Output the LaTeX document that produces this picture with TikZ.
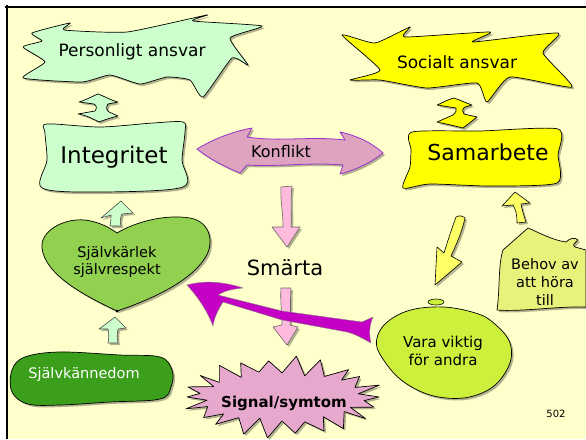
\documentclass[tikz,border=0pt]{standalone}
\usepackage{fontspec}
\setmainfont{DejaVu Sans}
\usetikzlibrary{shadows}
\definecolor{cream}{HTML}{FFFFCC}
\definecolor{lgreen}{HTML}{CCFFCC}
\definecolor{yel}{HTML}{FFFF00}
\definecolor{lyel}{HTML}{FFFF66}
\definecolor{konf}{HTML}{DDA3BF}
\definecolor{konfline}{HTML}{9933CC}
\definecolor{pinkarr}{HTML}{FFBBDD}
\definecolor{sigpink}{HTML}{E6A8CC}
\definecolor{magarr}{HTML}{C400C4}
\definecolor{heart}{HTML}{92D050}
\definecolor{dgreen}{HTML}{3C9F1C}
\definecolor{lime}{HTML}{CCF03C}
\definecolor{behov}{HTML}{E8F27A}
\begin{document}
\begin{tikzpicture}[x=1pt,y=-1pt,
  shad/.style={drop shadow={shadow xshift=2pt,shadow yshift=-2pt,opacity=.3,fill=black}},
  shp/.style={draw=black, line width=0.7pt, line join=round, shad},
  lbl/.style={font=\fontsize{14.5}{17.5}\selectfont, align=center, inner sep=0pt},
  big/.style={font=\fontsize{22}{26}\selectfont, inner sep=0pt}]
\useasboundingbox (0,0) rectangle (586,439);
\fill[white] (0,0) rectangle (586,439);
\fill[cream] (7,7) rectangle (586,439);
\draw[line width=2.5pt] (5,7) -- (586,7);
\draw[line width=2.5pt] (7,5) -- (7,439);

% Personligt ansvar
\path[shp, fill=lgreen] plot[smooth cycle, tension=0.3] coordinates {(32,33) (70,23) (64,30) (127,32) (207,15) (193,21) (262,26) (230,38) (248,65) (232,58) (203,97) (190,80) (167,77) (140,84) (110,75) (82,82) (23,78) (45,62) (23,47) (42,41)};
\node[font=\fontsize{17}{20}\selectfont, inner sep=0pt] (pers) at (132,52) {Personligt ansvar};

% green hook
\path[shp, fill=lgreen] (79,102) .. controls (88,99) and (93,96) .. (98,94) .. controls (104,96) and (110,100) .. (118,102) -- (108,104) .. controls (106,107) and (106,110) .. (109,112) -- (118,116) .. controls (110,118) and (104,120) .. (99,122) .. controls (93,119) and (86,115) .. (78,114) -- (95,111) .. controls (97,108) and (97,106) .. (94,104) -- cycle;

% Integritet
\path[shp, fill=lgreen] plot[smooth cycle, tension=0.5] coordinates {(47,124) (100,127) (153,123) (183,122) (185,132) (182,160) (183,187) (100,192) (42,188) (47,160) (45,133)};
\node[big, font=\fontsize{23}{26}\selectfont] (integ) at (114,157) {Integritet};

% Socialt ansvar
\path[shp, fill=yel] plot[smooth cycle, tension=0.3] coordinates {(342,35) (375,43) (410,27) (405,37) (490,32) (473,42) (558,33) (543,53) (572,87) (510,77) (487,102) (477,83) (427,88) (380,80) (350,80) (380,70)};
\node[font=\fontsize{17}{20}\selectfont, inner sep=0pt] (soc) at (457,62) {Socialt ansvar};

% yellow hook
\path[shp, fill=yel] (437,105) .. controls (444,102) and (449,99) .. (454,98) .. controls (460,100) and (466,103) .. (472,105) -- (465,107) .. controls (462,109) and (462,112) .. (464,114) -- (477,117) .. controls (472,121) and (467,125) .. (463,128) .. controls (455,126) and (446,124) .. (437,122) -- (453,115) .. controls (456,112) and (457,110) .. (456,108) -- cycle;

% Samarbete
\path[shp, fill=yel] plot[smooth cycle, tension=0.4] coordinates {(412,132) (480,131) (558,129) (558,155) (557,183) (490,186) (430,184) (403,188) (410,167) (411,150)};
\node[big] (sam) at (488,152) {Samarbete};

% Konflikt double arrow
\path[draw=konfline, line width=0.8pt, fill=konf, line join=round, shad] (197,149) .. controls (215,138) and (235,131) .. (252,128) -- (247,137) .. controls (280,142) and (310,136) .. (345,140) -- (340,132) .. controls (358,136) and (372,143) .. (383,153) .. controls (372,162) and (356,170) .. (340,174) -- (343,165) .. controls (310,162) and (280,167) .. (247,165) -- (240,173) .. controls (225,167) and (208,158) .. cycle;
\node[font=\fontsize{16}{19}\selectfont, inner sep=0pt] (konf) at (281,152) {Konflikt};

% pink arrow 1
\path[draw=black!60, line width=0.6pt, fill=pinkarr, line join=round, shad] (281,187) -- (292,186) .. controls (290,200) and (292,215) .. (291,227) -- (300,227) -- (287,247) -- (272,227) -- (283,227) .. controls (283,210) and (280,200) .. cycle;

\node[font=\fontsize{21}{24}\selectfont, inner sep=0pt] (smarta) at (285,268) {Smärta};

% pink arrow 2
\path[draw=black!60, line width=0.6pt, fill=pinkarr, line join=round, shad] (281,288) -- (291,288) .. controls (290,300) and (291,312) .. (290,325) -- (298,327) -- (287,345) -- (273,327) -- (282,325) .. controls (282,312) and (280,300) .. cycle;

% Signal/symtom
\path[shp, fill=sigpink] plot[samples at={0,...,43}, variable=\i] ({282+cos(\i*360/44)*(97-18*mod(\i,2))*(1+0.05*sin(\i*97))}, {397+sin(\i*360/44)*(39-15*mod(\i,2))*(1+0.08*sin(\i*131))}) -- cycle;
\node[font=\bfseries\fontsize{15}{18}\selectfont, inner sep=0pt] (sig) at (284,403) {Signal/symtom};

% heart
\path[shp, fill=heart] (117,311) .. controls (85,296) and (45,275) .. (42,248) .. controls (40,232) and (62,218) .. (85,220) .. controls (100,222) and (110,228) .. (117,233) .. controls (135,222) and (165,214) .. (190,218) .. controls (212,222) and (214,245) .. (205,258) .. controls (190,282) and (150,300) .. cycle;
\fill (117,311) circle (1.5);
\node[lbl] (selfk) at (117,262) {Självkärlek\\självrespekt};

% green up arrows
\path[draw=black!70, line width=0.6pt, fill=lgreen, line join=round, shad] (110,226) .. controls (111,221) and (111,218) .. (111,215) -- (101,218) -- (121,201) -- (133,213) -- (122,214) .. controls (120,218) and (120,222) .. (121,226) -- cycle;
\path[draw=black!70, line width=0.6pt, fill=lgreen, line join=round, shad] (108,343) .. controls (109,338) and (109,334) .. (108,329) -- (99,329) -- (115,317) -- (126,328) -- (118,329) .. controls (117,334) and (117,338) .. (118,343) -- cycle;

% Självkännedom
\path[shp, fill=dgreen] plot[smooth cycle, tension=0.6] coordinates {(12,370) (25,357) (60,352) (120,355) (160,357) (172,370) (171,387) (160,399) (110,402) (60,405) (28,404) (12,392)};
\node[lbl, text=white, font=\fontsize{14.5}{17}\selectfont] (selfkann) at (84,374) {Självkännedom};

% Vara viktig
\path[shp, fill=lime] plot[smooth cycle, tension=0.7] coordinates {(432,307) (472,312) (496,325) (511,347) (505,373) (482,393) (446,398) (410,386) (385,362) (377,338) (396,316)};
\path[draw=black, line width=0.6pt, fill=lime] (436,302) ellipse (8 and 3);
\node[lbl, font=\fontsize{15}{18}\selectfont] (vara) at (443,351) {Vara viktig\\för andra};

% yellow arrow down
\path[draw=black, line width=0.6pt, fill=lyel, line join=round, shad] (456,217) .. controls (459,215) and (463,216) .. (465,218) .. controls (462,232) and (456,245) .. (451,256) -- (462,262) -- (435,285) -- (437,247) -- (444,253) .. controls (448,240) and (452,228) .. cycle;

% Behov
\path[shp, fill=behov] (497,310) .. controls (500,290) and (498,265) .. (503,250) -- (528,228) .. controls (540,233) and (552,240) .. (566,242) .. controls (570,238) and (575,237) .. (578,240) .. controls (574,244) and (572,245) .. (575,247) -- (586,250) -- (586,307) .. controls (560,306) and (520,312) .. cycle;
\node[lbl, font=\fontsize{14.5}{18}\selectfont] (behov) at (545,282) {Behov av\\att höra\\till};

% yellow arrow up
\path[draw=black, line width=0.6pt, fill=lyel, line join=round, shad] (517,223) .. controls (517,215) and (516,210) .. (513,205) -- (502,206) -- (515,192) -- (530,203) -- (521,204) .. controls (522,210) and (524,216) .. (526,222) -- cycle;

% magenta arrow
\path[draw=black!50, line width=0.4pt, fill=magarr, line join=round] (187,285) .. controls (205,280) and (225,282) .. (243,288) .. controls (232,289) and (224,291) .. (218,295) -- (282,311) -- (362,322) .. controls (366,320) and (369,319) .. (373,317) .. controls (369,326) and (369,335) .. (371,343) .. controls (362,338) and (355,334) .. (347,332) -- (282,320) -- (223,302) .. controls (218,310) and (214,318) .. (213,326) .. controls (207,310) and (197,296) .. cycle;

\node[font=\fontsize{10}{12}\selectfont, inner sep=0pt] (num) at (556,414) {502};
\end{tikzpicture}
\end{document}
